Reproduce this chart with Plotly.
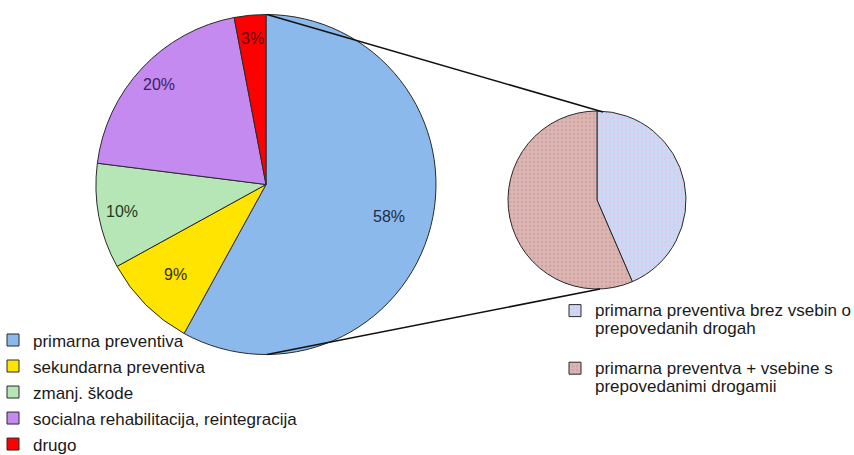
import math
import plotly.graph_objects as go

W, H = 854, 455

# Main breakdown of programmes
main_labels = [
    "primarna preventiva",
    "sekundarna preventiva",
    "zmanj. škode",
    "socialna rehabilitacija, reintegracija",
    "drugo",
]
main_values = [58, 9, 10, 20, 3]
main_colors = ["#8bb9ec", "#ffe400", "#b6e6b6", "#c48af0", "#ff0000"]
main_text_colors = ["#1e2c4a", "#3a2a00", "#1e3a1e", "#3c1e64", "#5a0a0a"]
# distance of each percentage label from the centre, as a share of the radius
label_radius = [0.75, 0.75, 0.86, 0.86, 0.86]

# Split of "primarna preventiva" into the two sub-groups
sub_labels = [
    "primarna preventiva brez vsebin o<br>prepovedanih drogah<br> ",
    "primarna preventva + vsebine s<br>prepovedanimi drogamii<br> ",
]
sub_values = [43.5, 56.5]
sub_colors = ["#c6dcf4", "#ddb5b3"]
sub_speckle = ["#e4c6ec", "#cfa5a3"]

# pie geometry in pixels
MAIN_CX, MAIN_CY, MAIN_R = 266, 184.5, 170
SUB_CX, SUB_CY, SUB_R = 597, 200, 89


def px_x(x):
    return x / W


def px_y(y):
    return 1 - y / H


def span(text, size):
    return f'<span style="font-size:{size}px">{text}</span>'


fig = go.Figure()

fig.add_trace(go.Pie(
    labels=[span(t, 17) for t in main_labels],
    values=main_values,
    sort=False,
    direction="clockwise",
    rotation=0,
    marker=dict(colors=main_colors, line=dict(color="#2a2a2a", width=1)),
    textinfo="none",
    domain=dict(x=[px_x(MAIN_CX - MAIN_R), px_x(MAIN_CX + MAIN_R)],
                y=[px_y(MAIN_CY + MAIN_R), px_y(MAIN_CY - MAIN_R)]),
    legend="legend",
    hoverinfo="label+percent",
))

fig.add_trace(go.Pie(
    labels=[span(t, 17) for t in sub_labels],
    values=sub_values,
    sort=False,
    direction="clockwise",
    rotation=0,
    marker=dict(
        colors=sub_colors,
        line=dict(color="#2a2a2a", width=1),
        pattern=dict(shape=".", bgcolor=sub_colors, fgcolor=sub_speckle,
                     size=4, solidity=0.3),
    ),
    textinfo="none",
    domain=dict(x=[px_x(SUB_CX - SUB_R), px_x(SUB_CX + SUB_R)],
                y=[px_y(SUB_CY + SUB_R), px_y(SUB_CY - SUB_R)]),
    legend="legend2",
    hoverinfo="percent",
))

# percentage labels placed on each slice's bisector
total = sum(main_values)
cum = 0
for v, col, fr in zip(main_values, main_text_colors, label_radius):
    mid = (cum + v / 2) / total * 2 * math.pi
    cum += v
    lx = MAIN_CX + fr * MAIN_R * math.sin(mid)
    ly = MAIN_CY - fr * MAIN_R * math.cos(mid)
    fig.add_annotation(
        x=px_x(lx), y=px_y(ly), xref="paper", yref="paper",
        xanchor="center", yanchor="middle",
        text=f"{round(v / total * 100)}%", showarrow=False,
        font=dict(family="Liberation Sans, Arial", size=16, color=col),
    )

# connector lines between the two pies
line_style = dict(color="#111111", width=1.6)
fig.add_shape(type="line", xref="paper", yref="paper",
              x0=px_x(MAIN_CX + 1), y0=px_y(MAIN_CY - MAIN_R), x1=px_x(603), y1=px_y(SUB_CY - SUB_R + 1),
              line=line_style)
fig.add_shape(type="line", xref="paper", yref="paper",
              x0=px_x(MAIN_CX + 1), y0=px_y(MAIN_CY + MAIN_R), x1=px_x(600), y1=px_y(SUB_CY + SUB_R),
              line=line_style)

fig.update_layout(
    width=W, height=H,
    margin=dict(l=0, r=0, t=0, b=0, autoexpand=False),
    paper_bgcolor="white",
    plot_bgcolor="white",
    font=dict(family="Liberation Sans, Arial", color="#1a1a1a"),
    legend=dict(
        x=px_x(-7), y=px_y(322), xanchor="left", yanchor="top",
        font=dict(size=17.7, family="Liberation Sans, Arial", color="#1a1a1a"),
        bgcolor="rgba(0,0,0,0)", tracegroupgap=0,
    ),
    legend2=dict(
        x=px_x(555), y=px_y(295), xanchor="left", yanchor="top",
        font=dict(size=14, family="Liberation Sans, Arial", color="#1a1a1a"),
        bgcolor="rgba(0,0,0,0)", valign="top",
    ),
)

fig.write_html("out.html")
